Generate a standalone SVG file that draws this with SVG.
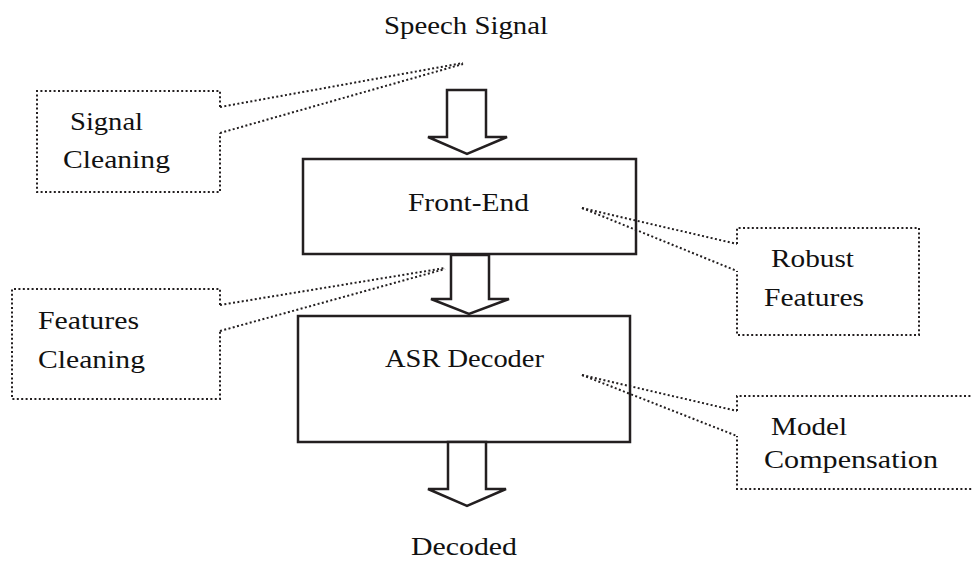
<svg xmlns="http://www.w3.org/2000/svg" width="972" height="561" viewBox="0 0 972 561">
  <style>
    .box { fill: #ffffff; stroke: #231f20; stroke-width: 2.5; }
    .arrow { fill: #ffffff; stroke: #231f20; stroke-width: 2.5; stroke-linejoin: miter; }
    .dot { fill: none; stroke: #231f20; stroke-width: 2; stroke-dasharray: 2 2.4; }
    .lbl { font-family: "Liberation Serif", "DejaVu Serif", serif; font-size: 26px; fill: #111111; }
  </style>
  <rect width="972" height="561" fill="#ffffff"/>

  <g id="speech-signal">
    <text class="lbl" x="384" y="34" textLength="164" lengthAdjust="spacingAndGlyphs">Speech Signal</text>
  </g>
  <g id="front-end">
    <rect class="box" x="303" y="159" width="333" height="95"/>
    <text class="lbl" x="408" y="211" textLength="121" lengthAdjust="spacingAndGlyphs">Front-End</text>
  </g>
  <g id="asr-decoder">
    <rect class="box" x="298" y="316" width="332" height="126"/>
    <text class="lbl" x="385" y="367" textLength="159" lengthAdjust="spacingAndGlyphs">ASR Decoder</text>
  </g>
  <g id="decoded">
    <text class="lbl" x="411" y="555" textLength="106" lengthAdjust="spacingAndGlyphs">Decoded</text>
  </g>
  <g id="signal-cleaning">
    <polyline class="dot" points="220,107 220,91 37,91 37,192 220,192 220,133"/>
    <text class="lbl" x="70" y="130" textLength="73" lengthAdjust="spacingAndGlyphs">Signal</text>
    <text class="lbl" x="63" y="168" textLength="107" lengthAdjust="spacingAndGlyphs">Cleaning</text>
  </g>
  <g id="features-cleaning">
    <polyline class="dot" points="220,305 220,289 12,289 12,399 220,399 220,331"/>
    <text class="lbl" x="38" y="329" textLength="101" lengthAdjust="spacingAndGlyphs">Features</text>
    <text class="lbl" x="38" y="368" textLength="107" lengthAdjust="spacingAndGlyphs">Cleaning</text>
  </g>
  <g id="robust-features">
    <polyline class="dot" points="737,244 737,228 919,228 919,335 737,335 737,271"/>
    <text class="lbl" x="771" y="267" textLength="83" lengthAdjust="spacingAndGlyphs">Robust</text>
    <text class="lbl" x="764" y="306" textLength="100" lengthAdjust="spacingAndGlyphs">Features</text>
  </g>
  <g id="model-compensation">
    <polyline class="dot" points="737,411 737,396 980,396"/>
    <polyline class="dot" points="980,489 737,489 737,436"/>
    <text class="lbl" x="771" y="435" textLength="76" lengthAdjust="spacingAndGlyphs">Model</text>
    <text class="lbl" x="764" y="468" textLength="174" lengthAdjust="spacingAndGlyphs">Compensation</text>
  </g>

  <g id="connectors">
    <polygon class="arrow" points="447,90 486,90 486,137 507,137 467,154 428,137 447,137"/>
    <polygon class="arrow" points="451,255 489,255 489,299 509,299 469,314 431,299 451,299"/>
    <polygon class="arrow" points="448,442 486,442 486,489 506,489 467,506 428,489 448,489"/>
    <line class="dot" x1="220" y1="107" x2="463" y2="63"/>
    <line class="dot" x1="220" y1="133" x2="463" y2="64"/>
    <line class="dot" x1="220" y1="305" x2="445" y2="268"/>
    <line class="dot" x1="220" y1="331" x2="445" y2="269"/>
    <line class="dot" x1="582" y1="208" x2="737" y2="244"/>
    <line class="dot" x1="582" y1="208" x2="737" y2="271"/>
    <line class="dot" x1="582" y1="375" x2="737" y2="411"/>
    <line class="dot" x1="582" y1="375" x2="737" y2="436"/>
  </g>
</svg>
